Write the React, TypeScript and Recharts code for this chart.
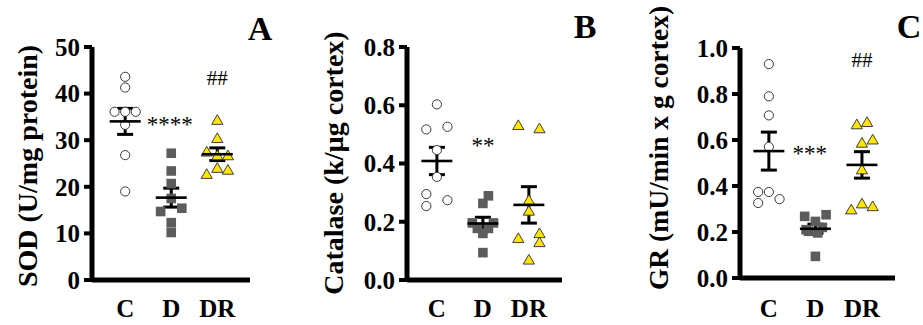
import { ErrorBar, Scatter, ScatterChart, XAxis, YAxis } from 'recharts';

const groups = ['C', 'D', 'DR'];

// SOD (U/mg protein)
const sodC = [43.6, 41.3, 36.1, 36.1, 36.1, 33.3, 26.8, 19.0];
const sodD = [27.2, 23.4, 20.7, 17.5, 15.4, 14.7, 12.3, 10.2];
const sodDR = [34.3, 30.4, 27.5, 26.7, 26.7, 24.0, 23.6, 22.7];
const sodCSpread = [0, 0, -0.23, 0, 0.23, 0, 0, 0];
const sodDSpread = [0, 0, 0, 0, 0.23, -0.23, 0, 0];
const sodDRSpread = [0, 0, -0.23, 0, 0.23, 0, 0.23, -0.23];
const sodTicks = [0, 10, 20, 30, 40, 50];

// Catalase (k/µg cortex)
const catC = [0.603, 0.526, 0.517, 0.446, 0.354, 0.295, 0.274, 0.254];
const catD = [0.289, 0.263, 0.196, 0.196, 0.177, 0.177, 0.16, 0.094];
const catDR = [0.531, 0.52, 0.274, 0.237, 0.16, 0.143, 0.129, 0.069];
const catCSpread = [0, 0.23, -0.23, 0, 0, -0.23, 0.23, -0.23];
const catDSpread = [0.12, 0, -0.23, 0.23, -0.12, 0.12, 0, 0];
const catDRSpread = [-0.23, 0.23, 0, 0, 0.23, -0.23, 0.23, 0];
const catTicks = [0, 0.2, 0.4, 0.6, 0.8];

// GR (mU/min x g cortex)
const grC = [0.93, 0.79, 0.707, 0.57, 0.374, 0.374, 0.343, 0.326];
const grD = [0.275, 0.268, 0.246, 0.22, 0.203, 0.196, 0.21, 0.094];
const grDR = [0.677, 0.667, 0.601, 0.587, 0.471, 0.323, 0.311, 0.297];
const grCSpread = [0, 0, 0, 0, -0.23, 0, 0.23, -0.23];
const grDSpread = [0.23, -0.23, 0, 0.15, -0.15, 0.05, -0.2, 0];
const grDRSpread = [0.11, -0.11, 0.23, 0, 0, 0, 0.23, -0.23];
const grTicks = [0, 0.2, 0.4, 0.6, 0.8, 1.0];

const FONT = '"Liberation Serif", "Times New Roman", serif';

const toPoints = (values: number[], spread: number[], group: number) =>
  values.map((v, i) => ({ x: group + spread[i], y: v }));

const meanSem = (values: number[], group: number) => {
  const n = values.length;
  const mean = values.reduce((a, b) => a + b, 0) / n;
  const sd = Math.sqrt(values.reduce((a, b) => a + (b - mean) ** 2, 0) / (n - 1));
  return { x: group, y: mean, sem: sd / Math.sqrt(n) };
};

const OpenCircle = (p: any) => (
  <circle cx={p.cx} cy={p.cy} r={4.6} fill="#fff" stroke="#3a3a3a" strokeWidth={1} />
);
const GraySquare = (p: any) => (
  <rect x={p.cx - 4.8} y={p.cy - 4.8} width={9.6} height={9.6} fill="#5c5c5c" />
);
const YellowTriangle = (p: any) => (
  <polygon
    points={`${p.cx},${p.cy - 5.5} ${p.cx + 5.6},${p.cy + 4.2} ${p.cx - 5.6},${p.cy + 4.2}`}
    fill="#ffe500"
    stroke="#2b2b2b"
    strokeWidth={0.9}
  />
);
const MeanLine = (p: any) => (
  <line x1={p.cx - 15.5} x2={p.cx + 15.5} y1={p.cy} y2={p.cy} stroke="#000" strokeWidth={2.6} />
);
const Note = (p: any) => (
  <text
    x={p.cx}
    y={p.cy}
    textAnchor="middle"
    fontFamily={FONT}
    fontSize={p.payload.size}
    fill="#000"
    dy={p.payload.dy}
  >
    {p.payload.text}
  </text>
);

const XTick = (p: any) => (
  <text
    x={p.x}
    y={317}
    textAnchor="middle"
    fontFamily={FONT}
    fontWeight="bold"
    fontSize={25}
    fill="#000"
  >
    {groups[p.payload.value - 1]}
  </text>
);

interface PanelProps {
  left: number;
  width: number;
  axisWidth: number;
  right: number;
  top: number;
  bottom: number;
  xDomain: [number, number];
  ticks: number[];
  digits: number;
  c: number[];
  d: number[];
  dr: number[];
  cSpread: number[];
  dSpread: number[];
  drSpread: number[];
  notes: { x: number; y: number; text: string; size: number; dy: string }[];
}

const Panel = (props: PanelProps) => {
  const { ticks } = props;
  const means = [meanSem(props.c, 1), meanSem(props.d, 2), meanSem(props.dr, 3)];
  return (
    <div style={{ position: 'absolute', left: props.left, top: 0 }}>
      <ScatterChart
        width={props.width}
        height={325}
        margin={{ top: props.top, right: props.right, bottom: 0, left: 0 }}
      >
        <XAxis
          type="number"
          dataKey="x"
          domain={props.xDomain}
          ticks={[1, 2, 3]}
          tick={<XTick />}
          tickLine={false}
          tickSize={0}
          height={325 - props.bottom}
          axisLine={{ stroke: '#000', strokeWidth: 5 }}
          allowDataOverflow
        />
        <YAxis
          type="number"
          dataKey="y"
          domain={[ticks[0], ticks[ticks.length - 1]]}
          ticks={ticks}
          width={props.axisWidth}
          tickSize={8}
          tickMargin={4}
          tickFormatter={(v: number) => v.toFixed(props.digits)}
          tick={{ fill: '#000', fontFamily: FONT, fontWeight: 'bold', fontSize: 25 }}
          tickLine={{ stroke: '#000', strokeWidth: 4 }}
          axisLine={{ stroke: '#000', strokeWidth: 5 }}
          allowDataOverflow
        />
        <Scatter data={toPoints(props.c, props.cSpread, 1)} shape={<OpenCircle />} isAnimationActive={false} />
        <Scatter data={toPoints(props.d, props.dSpread, 2)} shape={<GraySquare />} isAnimationActive={false} />
        <Scatter data={toPoints(props.dr, props.drSpread, 3)} shape={<YellowTriangle />} isAnimationActive={false} />
        <Scatter data={means} shape={<MeanLine />} isAnimationActive={false}>
          <ErrorBar dataKey="sem" direction="y" width={8} stroke="#000" strokeWidth={3} />
        </Scatter>
        <Scatter data={props.notes} shape={<Note />} isAnimationActive={false} />
      </ScatterChart>
    </div>
  );
};

const titleStyle = { fontFamily: FONT, fontWeight: 'bold' as const, fill: '#000' };

const App = () => {
  return (
    <div style={{ position: 'absolute', left: 0, top: 0, width: 923, height: 325, background: '#fff', overflow: 'hidden' }}>
      <Panel
        left={0}
        width={310}
        axisWidth={92}
        right={60}
        top={47}
        bottom={280}
        xDomain={[0.28, 3.71]}
        ticks={sodTicks}
        digits={0}
        c={sodC}
        d={sodD}
        dr={sodDR}
        cSpread={sodCSpread}
        dSpread={sodDSpread}
        drSpread={sodDRSpread}
        notes={[
          { x: 1.97, y: 34.3, text: '****', size: 23, dy: '0.5em' },
          { x: 3, y: 43.6, text: '##', size: 21, dy: '0.38em' },
        ]}
      />
      <Panel
        left={310}
        width={310}
        axisWidth={97}
        right={58}
        top={47}
        bottom={280}
        xDomain={[0.35, 3.72]}
        ticks={catTicks}
        digits={1}
        c={catC}
        d={catD}
        dr={catDR}
        cSpread={catCSpread}
        dSpread={catDSpread}
        drSpread={catDRSpread}
        notes={[{ x: 2, y: 0.477, text: '**', size: 23, dy: '0.5em' }]}
      />
      <Panel
        left={615}
        width={308}
        axisWidth={125}
        right={28}
        top={48}
        bottom={278}
        xDomain={[0.38, 3.71]}
        ticks={grTicks}
        digits={1}
        c={grC}
        d={grD}
        dr={grDR}
        cSpread={grCSpread}
        dSpread={grDSpread}
        drSpread={grDRSpread}
        notes={[
          { x: 1.88, y: 0.558, text: '***', size: 23, dy: '0.5em' },
          { x: 3, y: 0.95, text: '##', size: 21, dy: '0.38em' },
        ]}
      />
      <svg width={923} height={325} style={{ position: 'absolute', left: 0, top: 0, pointerEvents: 'none' }}>
        <text x={37} y={166} transform="rotate(-90 37 166)" textAnchor="middle" fontSize={28} {...titleStyle}>
          SOD (U/mg protein)
        </text>
        <text x={343} y={163} transform="rotate(-90 343 163)" textAnchor="middle" fontSize={28} {...titleStyle}>
          Catalase (k/µg cortex)
        </text>
        <text x={668} y={148} transform="rotate(-90 668 148)" textAnchor="middle" fontSize={27.5} {...titleStyle}>
          GR (mU/min x g cortex)
        </text>
        <text x={260} y={40} textAnchor="middle" fontSize={34} {...titleStyle}>A</text>
        <text x={585} y={38} textAnchor="middle" fontSize={34} {...titleStyle}>B</text>
        <text x={909} y={38} textAnchor="middle" fontSize={34} {...titleStyle}>C</text>
      </svg>
    </div>
  );
};

export default App;
